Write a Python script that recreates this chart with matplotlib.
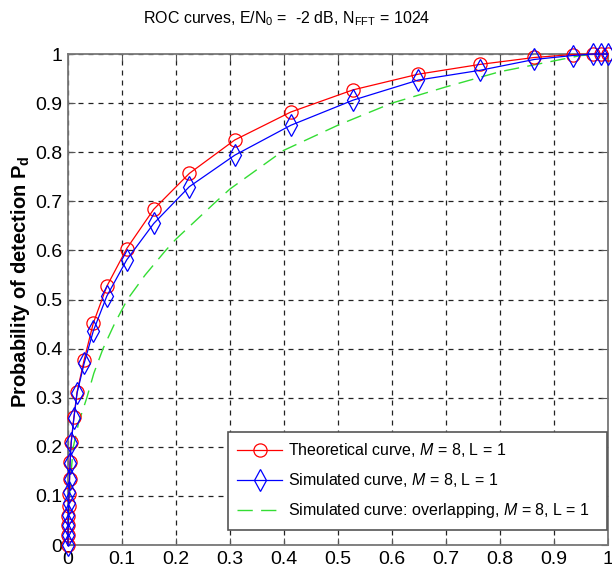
import matplotlib
matplotlib.use("Agg")
import matplotlib.pyplot as plt
from matplotlib import font_manager

# ROC data
pfa = [0.0, 0.0002, 0.0005, 0.001, 0.0015, 0.002, 0.003, 0.004, 0.006, 0.011,
       0.017, 0.030, 0.047, 0.072, 0.109, 0.159, 0.225, 0.309, 0.413, 0.528,
       0.649, 0.764, 0.864, 0.935, 0.973, 0.988, 1.0]
pd_theory = [0.0, 0.02, 0.04, 0.06, 0.08, 0.105, 0.135, 0.17, 0.21, 0.26,
             0.312, 0.377, 0.452, 0.527, 0.604, 0.684, 0.757, 0.825, 0.882, 0.927,
             0.959, 0.979, 0.993, 0.999, 1.0, 1.0, 1.0]
pd_sim = [0.0, 0.02, 0.04, 0.062, 0.085, 0.108, 0.135, 0.168, 0.208, 0.258,
          0.31, 0.370, 0.436, 0.507, 0.581, 0.655, 0.730, 0.794, 0.855, 0.906,
          0.947, 0.967, 0.989, 0.997, 1.0, 1.0, 1.0]

pfa_ovl = [0.0, 0.001, 0.003, 0.006, 0.010, 0.020, 0.035, 0.048, 0.065, 0.086,
           0.110, 0.143, 0.181, 0.200, 0.270, 0.300, 0.400, 0.500, 0.600, 0.700,
           0.800, 0.900, 0.950, 1.0]
pd_ovl = [0.0, 0.05, 0.10, 0.15, 0.20, 0.25, 0.30, 0.35, 0.40, 0.45,
          0.50, 0.55, 0.60, 0.623, 0.695, 0.725, 0.804, 0.855, 0.900, 0.933,
          0.964, 0.986, 0.997, 1.0]

labels = ["Theoretical curve, $\\it{M}$ = 8, L = 1",
          "Simulated curve, $\\it{M}$ = 8, L = 1",
          "Simulated curve: overlapping, $\\it{M}$ = 8, L = 1"]
ticks = [i / 10 for i in range(11)]
tick_labels = ["0", "0.1", "0.2", "0.3", "0.4", "0.5", "0.6", "0.7", "0.8", "0.9", "1"]

# pick a narrow Helvetica-like font if there is one
names = {f.name for f in font_manager.fontManager.ttflist}
font = "Liberation Sans Narrow" if "Liberation Sans Narrow" in names else "Liberation Sans"
plt.rcParams["font.family"] = [font, "DejaVu Sans"]
plt.rcParams["mathtext.fontset"] = "custom"
plt.rcParams["mathtext.rm"] = font
plt.rcParams["mathtext.it"] = font + ":italic"
plt.rcParams["mathtext.bf"] = font + ":bold"

fig = plt.figure(figsize=(6.12, 5.75), dpi=100)
ax = fig.add_axes([0.111, 0.052, 0.882, 0.854])

ax.plot(pfa, pd_theory, color="#ff0000", lw=0.9, marker="o", ms=9.5,
        mfc="none", mec="#ff0000", mew=0.9, clip_on=False, zorder=3, label=labels[0])
ax.plot(pfa, pd_sim, color="#0000ff", lw=0.9, marker="d", ms=11,
        mfc="none", mec="#0000ff", mew=0.9, clip_on=False, zorder=4, label=labels[1])
ax.plot(pfa_ovl, pd_ovl, color="#33dd33", lw=1.0, dashes=(11, 6),
        zorder=2, label=labels[2])

ax.set_xlim(0, 1)
ax.set_ylim(0, 1)
ax.set_xticks(ticks)
ax.set_xticklabels(tick_labels)
ax.set_yticks(ticks)
ax.set_yticklabels(tick_labels)
ax.tick_params(direction="in", length=5, top=True, right=True, labelsize=14,
               color="#555555", pad=4)
ax.grid(True, color="#222222", linestyle=(0, (4, 4)), lw=0.9)
for s in ax.spines.values():
    s.set_color("#777777")
    s.set_linewidth(1.3)

leg = ax.legend(loc="lower left", bbox_to_anchor=(0.296, 0.031, 0.702, 0.2),
                mode="expand", borderaxespad=0, fontsize=11.5, fancybox=False,
                framealpha=1, edgecolor="#555555", handlelength=2.8,
                handletextpad=0.4, labelspacing=0.75, borderpad=0.6)
leg.get_frame().set_linewidth(1.2)

fig.text(0.469, 0.967, "ROC curves, E/N$_0$ =  -2 dB, N$_\\mathrm{FFT}$ = 1024",
         ha="center", va="center", fontsize=11.5)
fig.text(0.033, 0.51, "Probability of detection P$_\\mathbf{d}$",
         rotation=90, ha="center", va="center", fontsize=14.5, fontweight="bold")

fig.savefig("out.png", dpi=100)
